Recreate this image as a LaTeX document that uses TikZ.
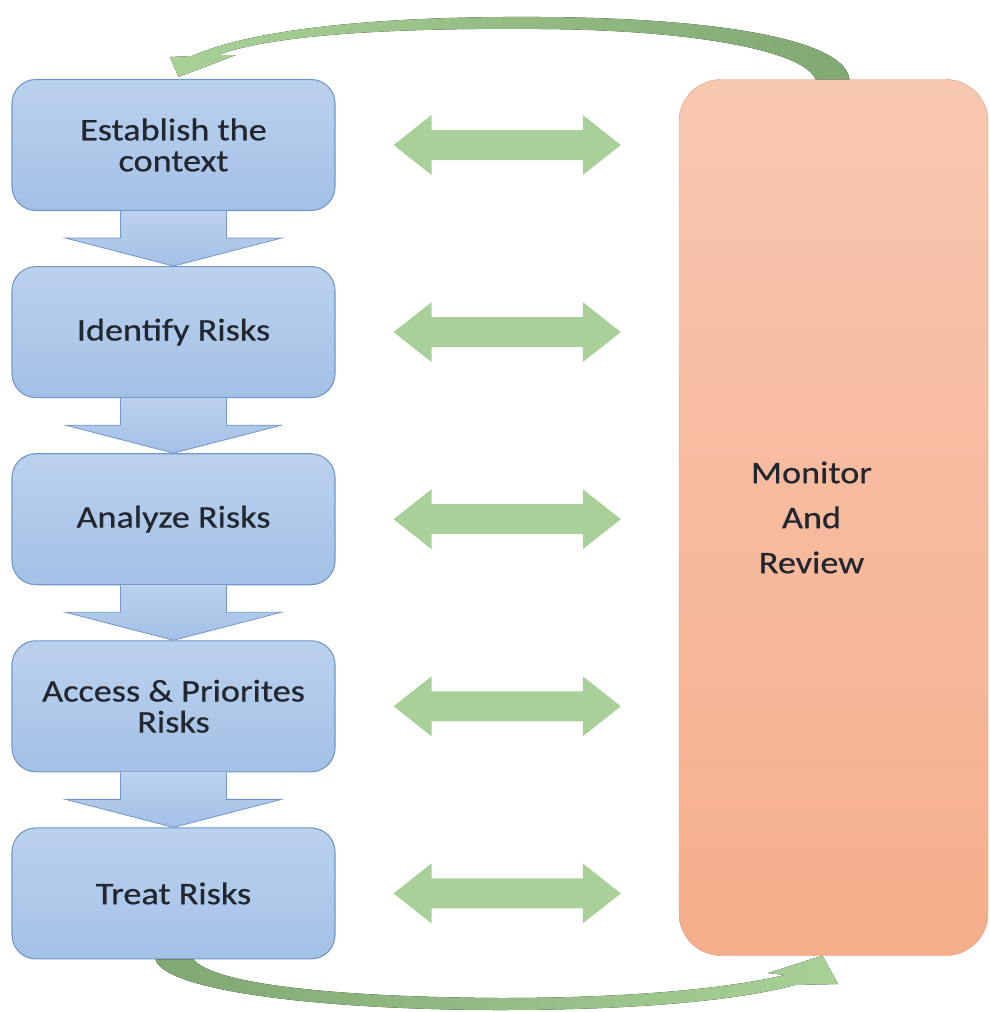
\documentclass[tikz,border=0pt]{standalone}
\usepackage{fontspec}
\setmainfont{Carlito}[FakeStretch=1.15,FakeBold=0.5]
\usetikzlibrary{calc,positioning}

\definecolor{stagetop}{HTML}{BBD2EE}
\definecolor{stagebot}{HTML}{A3C0E6}
\definecolor{stageline}{HTML}{7397C9}
\definecolor{revtop}{HTML}{F8C7B1}
\definecolor{revbot}{HTML}{F5AE8B}
\definecolor{dblgreen}{HTML}{AAD09A}
\definecolor{greenlight}{HTML}{A8D197}
\definecolor{greendark}{HTML}{80A872}
\definecolor{txt}{HTML}{22262E}

\begin{document}
\begin{tikzpicture}[x=1pt,y=-1pt,
	stage/.style={rectangle,rounded corners=24pt,draw=stageline,line width=1.1pt,top color=stagetop,bottom color=stagebot,
		minimum width=323pt,minimum height=131pt,align=center,text=txt,font=\fontsize{31.5}{31}\selectfont},
	review/.style={rectangle,rounded corners=42pt,draw=revbot!90!black,line width=.4pt,top color=revtop,bottom color=revbot,
		minimum width=309pt,minimum height=876pt},
	downarrow/.style={draw=stageline,line width=.8pt,top color=stagetop,bottom color=stagebot},
	dblarrow/.style={fill=dblgreen},
	]
	\useasboundingbox (0,0) rectangle (989,1012);
	
	\node[stage] (b1) at (173.5,145) {Establish the\\context};
	\node[stage,below=55pt of b1] (b2) {Identify Risks};
	\node[stage,below=55pt of b2] (b3) {Analyze Risks};
	\node[stage,below=55pt of b3] (b4) {Access \& Priorites\\Risks};
	\node[stage,below=55pt of b4] (b5) {Treat Risks};
	
	\node[review] (mon) at (833.5,517.5) {};
	\node[align=center,text=txt,font=\fontsize{31.5}{45}\selectfont] (montext) at ($(mon.center)+(-22,0)$) {Monitor\\And\\Review};
	
	% block arrows down the left column
	\foreach \i/\j in {1/2,2/3,3/4,4/5}{
		\draw[downarrow] ($(b\i.south)+(-53,0)$) -- ($(b\i.south)+(-53,27)$) -- ($(b\i.south)+(-108,27)$) -- (b\j.north)
			-- ($(b\i.south)+(108,27)$) -- ($(b\i.south)+(53,27)$) -- ($(b\i.south)+(53,0)$);
	}
	
	% two-way arrows to monitor and review
	\foreach \i in {1,...,5}{
		\coordinate (l\i) at ($(b\i.east)+(58,0)$);
		\coordinate (r\i) at ($(b\i.east -| mon.west)+(-58,0)$);
		\fill[dblarrow] (l\i) -- ++(38,-30) -- ++(0,15) -- ($(r\i)+(-38,-15)$) -- ++(0,-15) -- (r\i)
			-- ++(-38,30) -- ++(0,-15) -- ($(l\i)+(38,15)$) -- ++(0,15) -- cycle;
	}
	
	% curved arrow over the top
	\fill[left color=greenlight,right color=greendark]
		($(b1.north)+(5,-2)$) -- (170,57) -- (192,56)
		.. controls (260,26) and (400,16) .. (540,17)
		.. controls (720,18) and (845,40) .. ($(mon.north)+(16,0)$)
		-- ($(mon.north)+(-18,0)$)
		.. controls (805,52) and (700,30) .. (540,29)
		.. controls (420,28) and (280,32) .. (218,55)
		-- (236,55) -- cycle;
	
	% curved arrow under the bottom
	\fill[left color=greendark,right color=greenlight]
		($(b5.south)+(-18,0)$)
		.. controls (165,992) and (330,1010) .. (500,1010)
		.. controls (640,1010) and (740,1000) .. (795,985)
		-- (838,984) -- ($(mon.south)+(-11,0)$) -- (768,973) -- (785,975)
		.. controls (720,990) and (620,998) .. (500,998)
		.. controls (340,997) and (215,985) .. ($(b5.south)+(20,0)$) -- cycle;
\end{tikzpicture}
\end{document}
